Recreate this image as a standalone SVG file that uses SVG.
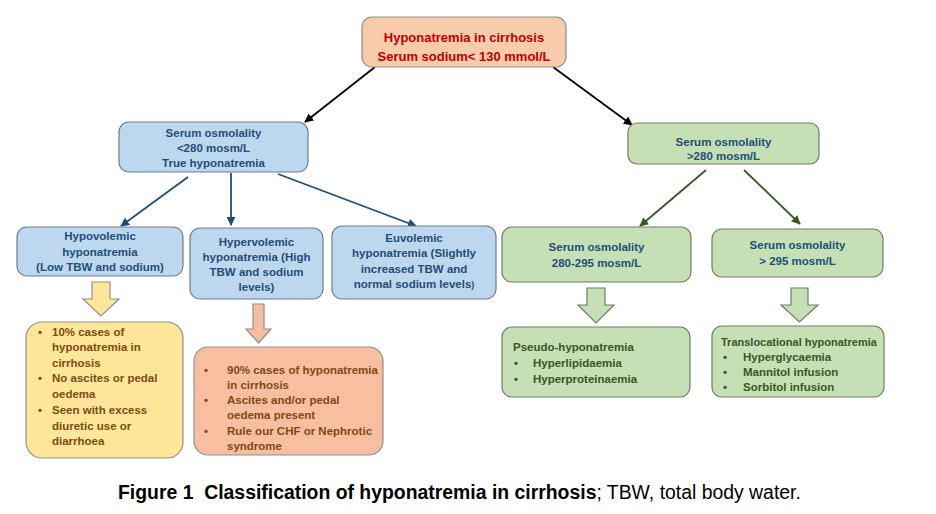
<svg xmlns="http://www.w3.org/2000/svg" width="936" height="514" viewBox="0 0 936 514">
<defs>
<style>
text{font-family:"Liberation Sans",Arial,sans-serif;font-weight:bold;font-size:11.5px}
.c{text-anchor:middle}
.top{fill:#f8cbad;stroke:#8d8d8d;stroke-width:1.2}
.blue{fill:#bdd7ee;stroke:#6e7f8f;stroke-width:1.2}
.green{fill:#c5e0b4;stroke:#6f7d68;stroke-width:1.2}
.yel{fill:#ffe699;stroke:#8f8f8f;stroke-width:1.2}
.sal{fill:#f7bfa0;stroke:#8f8f8f;stroke-width:1.2}
.tr{fill:#c00000;font-size:13px}
.tb{fill:#1f4e79}
.tg{fill:#385723}
.tbr{fill:#7f4a12}
.ln{fill:none;stroke-width:1.8}
.cap{font-size:19.4px;fill:#000;white-space:pre}
</style>
<marker id="ak" viewBox="0 0 10 10" refX="9" refY="5" markerWidth="9" markerHeight="9" markerUnits="userSpaceOnUse" orient="auto"><path d="M0,0 L10,5 L0,10 z" fill="#000"/></marker>
<marker id="ab" viewBox="0 0 10 10" refX="9" refY="5" markerWidth="9" markerHeight="9" markerUnits="userSpaceOnUse" orient="auto"><path d="M0,0 L10,5 L0,10 z" fill="#1f4e79"/></marker>
<marker id="ag" viewBox="0 0 10 10" refX="9" refY="5" markerWidth="9" markerHeight="9" markerUnits="userSpaceOnUse" orient="auto"><path d="M0,0 L10,5 L0,10 z" fill="#385723"/></marker>
</defs>
<rect width="936" height="514" fill="#fff"/>

<g id="connectors">
<line class="ln" x1="375" y1="67" x2="305" y2="122" stroke="#000" marker-end="url(#ak)"/>
<line class="ln" x1="553" y1="67" x2="632" y2="125" stroke="#000" marker-end="url(#ak)"/>
<line class="ln" x1="188" y1="177" x2="121" y2="226" stroke="#1f4e79" marker-end="url(#ab)"/>
<line class="ln" x1="231" y1="173" x2="231" y2="225" stroke="#1f4e79" marker-end="url(#ab)"/>
<line class="ln" x1="278" y1="174" x2="416" y2="226" stroke="#1f4e79" marker-end="url(#ab)"/>
<line class="ln" x1="706" y1="170" x2="640" y2="226" stroke="#385723" marker-end="url(#ag)"/>
<line class="ln" x1="744" y1="170" x2="800" y2="224" stroke="#385723" marker-end="url(#ag)"/>
<path class="yel" d="M92,282 H110 V299 H119 L101,316 L83,299 H92 Z"/>
<path class="sal" d="M253,304 H264 V329 H271 L258.5,343 L246,329 H253 Z"/>
<path class="green" d="M587,288 H605 V305 H614 L596,323 L578,305 H587 Z"/>
<path class="green" d="M791,288 H808 V305 H818 L799.5,322 L781,305 H791 Z"/>
</g>

<g id="root">
<rect class="top" x="362" y="17" width="204" height="50" rx="10"/>
<text class="c tr" x="464" y="42">Hyponatremia in cirrhosis</text>
<text class="c tr" x="464" y="61">Serum sodium&lt; 130 mmol/L</text>
</g>

<g id="low-osm">
<rect class="blue" x="119" y="122" width="189" height="50" rx="10"/>
<text class="c tb" x="213.5" y="137">Serum osmolality</text>
<text class="c tb" x="213.5" y="152">&lt;280 mosm/L</text>
<text class="c tb" x="213.5" y="167">True hyponatremia</text>
</g>

<g id="high-osm">
<rect class="green" x="628" y="123" width="191" height="41" rx="9"/>
<text class="c tb" x="723.5" y="146">Serum osmolality</text>
<text class="c tb" x="723.5" y="160">&gt;280 mosm/L</text>
</g>

<g id="hypovolemic">
<rect class="blue" x="17" y="227" width="166" height="49" rx="10"/>
<text class="c tb" x="100" y="240">Hypovolemic</text>
<text class="c tb" x="100" y="256">hyponatremia</text>
<text class="c tb" x="100" y="271">(Low TBW and sodium)</text>
</g>

<g id="hypervolemic">
<rect class="blue" x="190" y="228" width="133" height="71" rx="10"/>
<text class="c tb" x="256.5" y="246">Hypervolemic</text>
<text class="c tb" x="256.5" y="261">hyponatremia (High</text>
<text class="c tb" x="256.5" y="276">TBW and sodium</text>
<text class="c tb" x="256.5" y="291">levels)</text>
</g>

<g id="euvolemic">
<rect class="blue" x="332" y="226" width="164" height="73" rx="10"/>
<text class="c tb" x="414" y="242">Euvolemic</text>
<text class="c tb" x="414" y="257">hyponatremia (Slightly</text>
<text class="c tb" x="414" y="273">increased TBW and</text>
<text class="c tb" x="414" y="288">normal sodium levels<tspan font-size="9px">)</tspan></text>
</g>

<g id="osm-280-295">
<rect class="green" x="502" y="227" width="189" height="55" rx="10"/>
<text class="c tb" x="596.5" y="251">Serum osmolality</text>
<text class="c tb" x="596.5" y="267">280-295 mosm/L</text>
</g>

<g id="osm-295">
<rect class="green" x="712" y="229" width="171" height="48" rx="10"/>
<text class="c tb" x="797.5" y="249">Serum osmolality</text>
<text class="c tb" x="797.5" y="265">&gt; 295 mosm/L</text>
</g>

<g id="hypo-detail">
<rect class="yel" x="26" y="322" width="157" height="136" rx="16"/>
<g class="tbr">
<text x="38" y="336">•</text><text x="52" y="336">10% cases of</text>
<text x="52" y="351">hyponatremia in</text>
<text x="52" y="367">cirrhosis</text>
<text x="38" y="382">•</text><text x="52" y="382">No ascites or pedal</text>
<text x="52" y="398">oedema</text>
<text x="38" y="414">•</text><text x="52" y="414">Seen with excess</text>
<text x="52" y="430">diuretic use or</text>
<text x="52" y="445">diarrhoea</text>
</g>
</g>

<g id="hyper-detail">
<rect class="sal" x="194" y="347" width="189" height="108" rx="14"/>
<g class="tbr">
<text x="204" y="374">•</text><text x="227" y="374">90% cases of hyponatremia</text>
<text x="227" y="389">in cirrhosis</text>
<text x="204" y="404">•</text><text x="227" y="404">Ascites and/or pedal</text>
<text x="227" y="419">oedema present</text>
<text x="204" y="435">•</text><text x="227" y="435">Rule our CHF or Nephrotic</text>
<text x="227" y="450">syndrome</text>
</g>
</g>

<g id="pseudo">
<rect class="green" x="502" y="327" width="188" height="70" rx="10"/>
<g class="tg">
<text x="513" y="351">Pseudo-hyponatremia</text>
<text x="514" y="367">•</text><text x="533" y="367">Hyperlipidaemia</text>
<text x="514" y="383">•</text><text x="533" y="383">Hyperproteinaemia</text>
</g>
</g>

<g id="translocational">
<rect class="green" x="712" y="326" width="172" height="71" rx="10"/>
<g class="tg">
<text x="721" y="346" style="font-size:11px">Translocational hyponatremia</text>
<text x="723" y="361">•</text><text x="743" y="361">Hyperglycaemia</text>
<text x="723" y="376">•</text><text x="743" y="376">Mannitol infusion</text>
<text x="723" y="391">•</text><text x="743" y="391">Sorbitol infusion</text>
</g>
</g>

<text class="cap" x="118" y="499">Figure 1  Classification of hyponatremia in cirrhosis<tspan font-weight="normal">; TBW, total body water.</tspan></text>
</svg>
